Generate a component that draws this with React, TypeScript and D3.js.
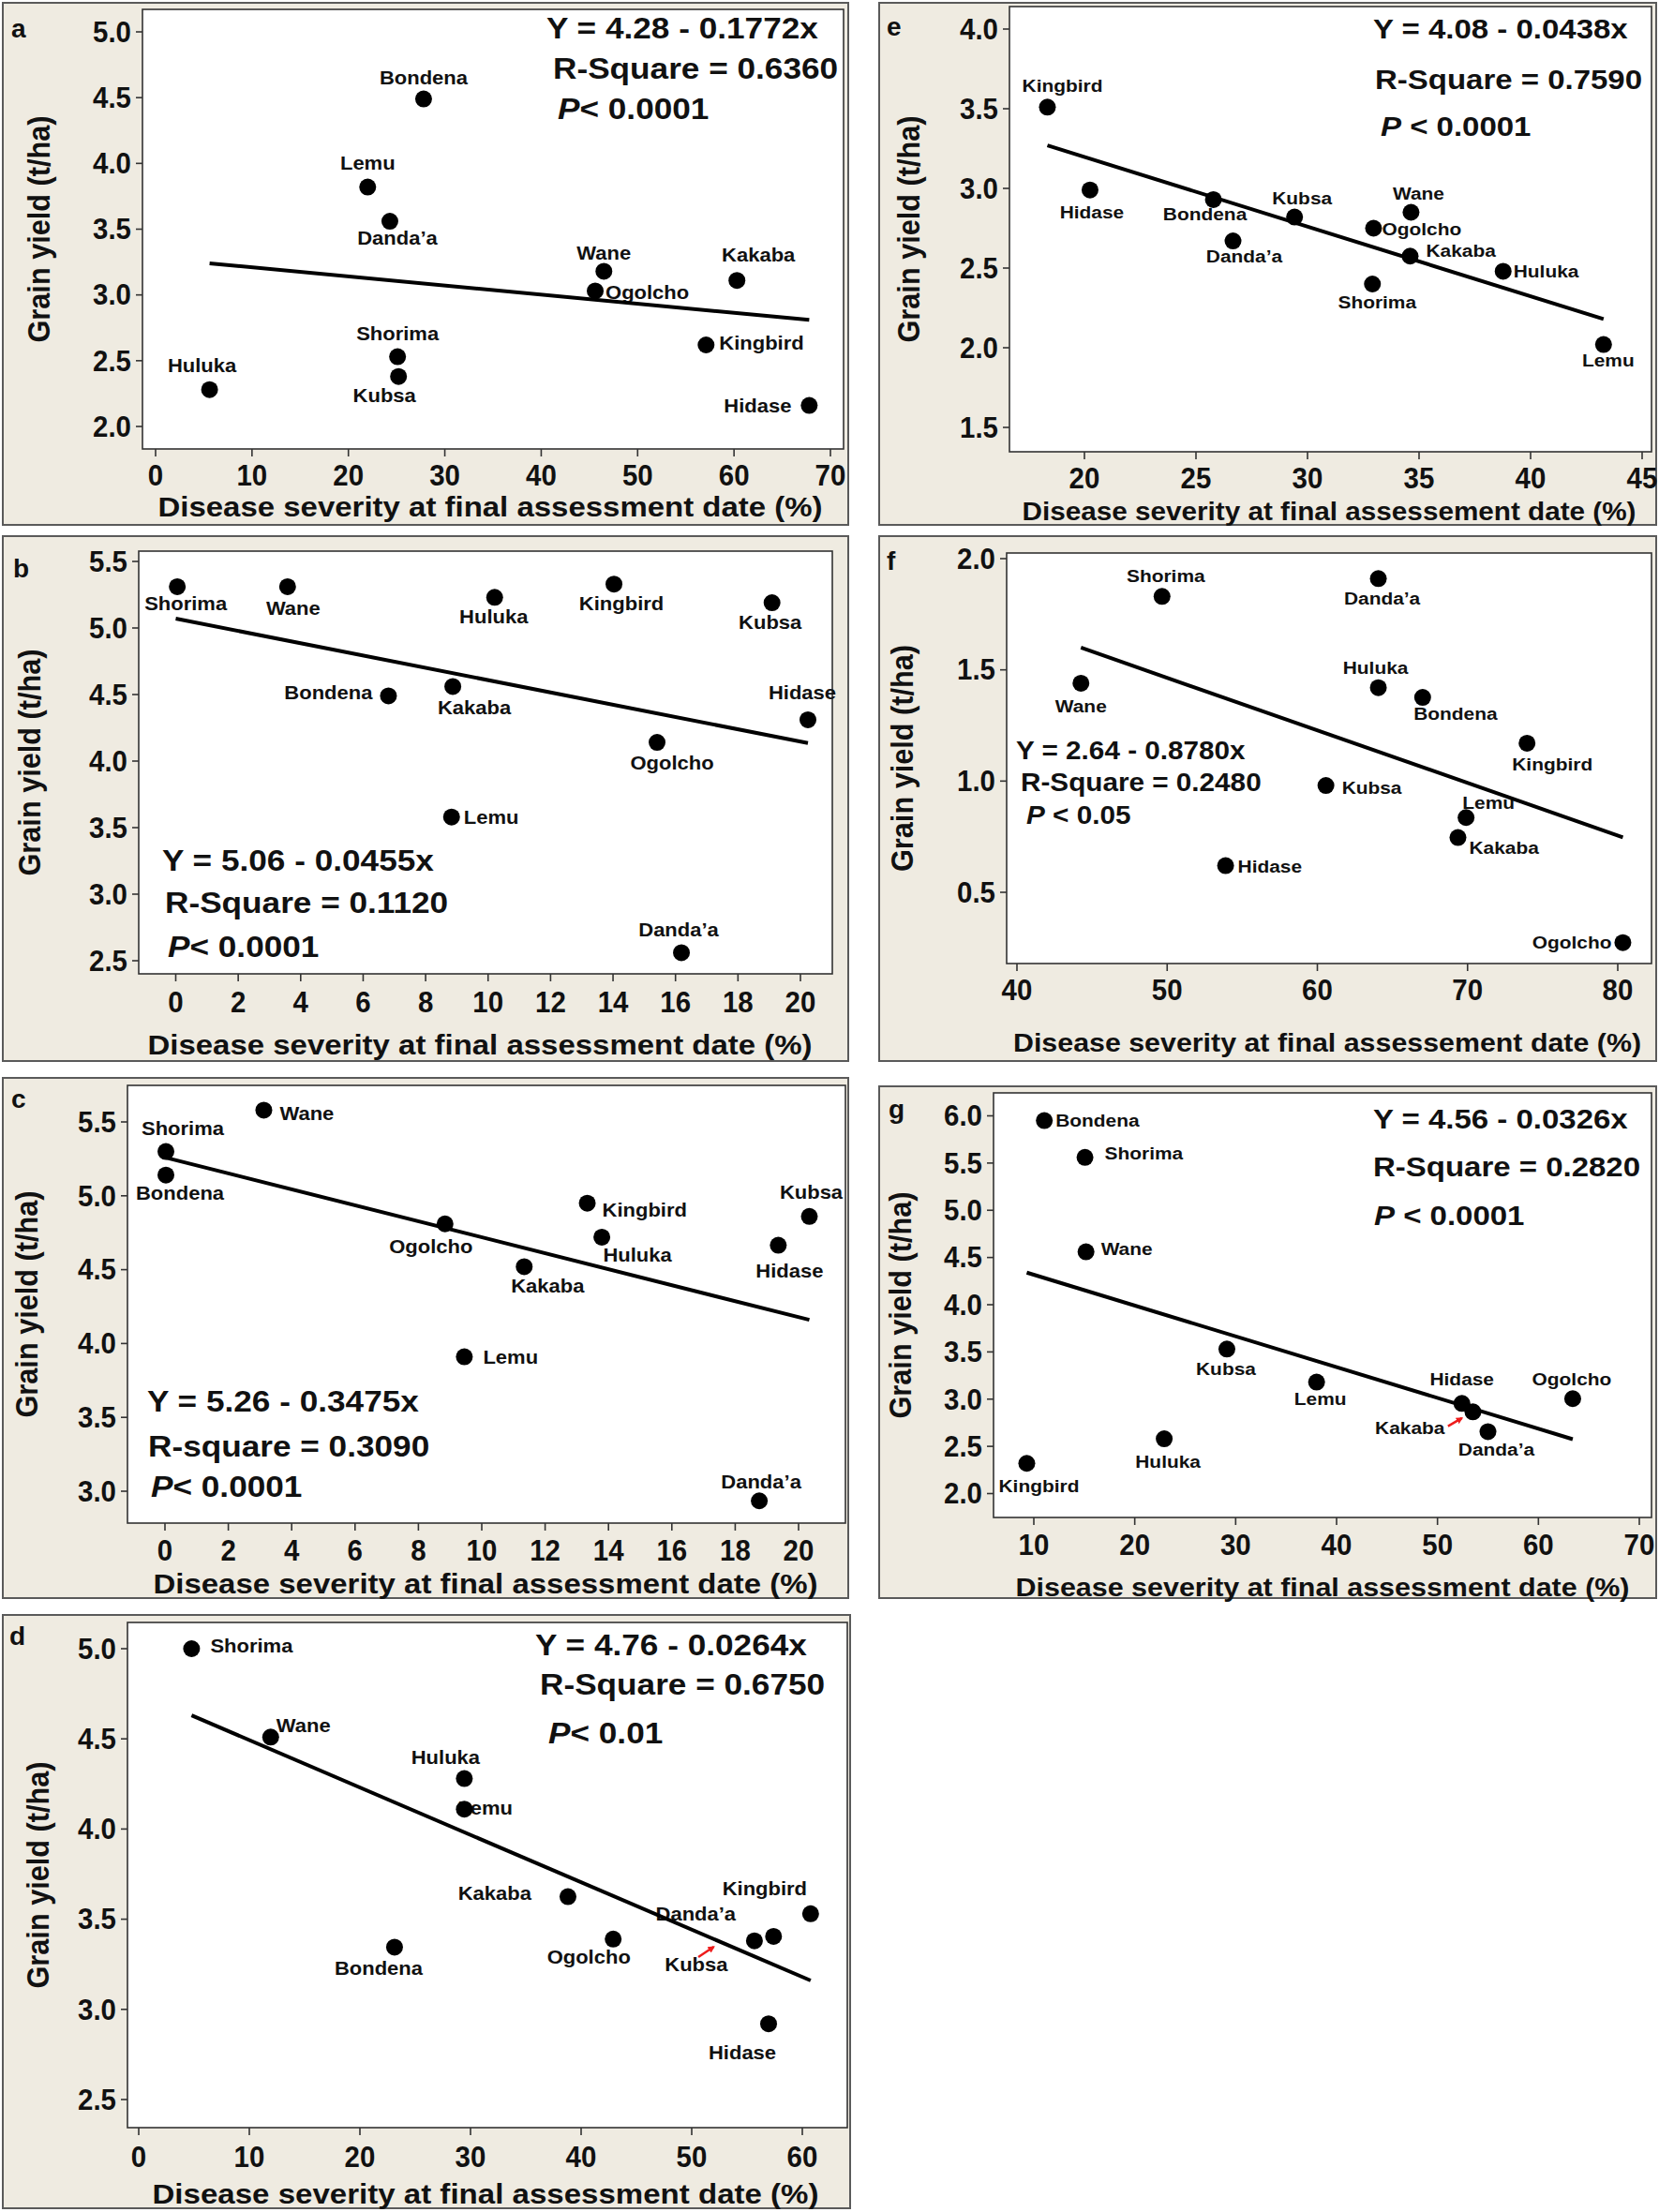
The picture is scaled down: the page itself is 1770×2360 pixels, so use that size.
import React from "react";
import * as d3 from "d3";

// ---------------- DATA ----------------
const titleStd = "Disease severity at final assessment date (%)";
const titleAlt = "Disease severity at final assessement date (%)";
const yTitle = "Grain yield (t/ha)";

// panel a
const aNames = ["Bondena", "Lemu", "Danda\u2019a", "Wane", "Ogolcho", "Kakaba", "Kingbird", "Shorima", "Kubsa", "Huluka", "Hidase"];
const aSev = [27.8, 22.0, 24.3, 46.5, 45.6, 60.3, 57.1, 25.1, 25.2, 5.6, 67.8];
const aYield = [4.49, 3.82, 3.56, 3.18, 3.03, 3.11, 2.62, 2.53, 2.38, 2.28, 2.16];
const aFitX = [5.6, 67.8];
const aFitY = [3.24, 2.81];
const aXTicks = [0, 10, 20, 30, 40, 50, 60, 70];
const aYTicks = [2.0, 2.5, 3.0, 3.5, 4.0, 4.5, 5.0];
const aEq = ["Y = 4.28 - 0.1772x", "R-Square = 0.6360", "< 0.0001"];

// panel e
const eNames = ["Kingbird", "Hidase", "Bondena", "Kubsa", "Danda\u2019a", "Wane", "Ogolcho", "Kakaba", "Shorima", "Huluka", "Lemu"];
const eSev = [18.34, 20.25, 25.78, 29.42, 26.66, 34.64, 32.96, 34.6, 32.91, 38.77, 43.27];
const eYield = [3.51, 2.99, 2.93, 2.82, 2.67, 2.85, 2.75, 2.575, 2.4, 2.48, 2.02];
const eFitX = [18.34, 43.27];
const eFitY = [3.27, 2.18];
const eXTicks = [20, 25, 30, 35, 40, 45];
const eYTicks = [1.5, 2.0, 2.5, 3.0, 3.5, 4.0];
const eEq = ["Y = 4.08 - 0.0438x", "R-Square = 0.7590", " < 0.0001"];

// panel b
const bNames = ["Shorima", "Wane", "Huluka", "Kingbird", "Kubsa", "Bondena", "Kakaba", "Hidase", "Ogolcho", "Lemu", "Danda\u2019a"];
const bSev = [0.05, 3.58, 10.21, 14.03, 19.09, 6.81, 8.87, 20.24, 15.41, 8.83, 16.19];
const bYield = [5.31, 5.31, 5.23, 5.33, 5.19, 4.49, 4.56, 4.31, 4.14, 3.58, 2.56];
const bFitX = [0, 20.24];
const bFitY = [5.07, 4.135];
const bXTicks = [0, 2, 4, 6, 8, 10, 12, 14, 16, 18, 20];
const bYTicks = [2.5, 3.0, 3.5, 4.0, 4.5, 5.0, 5.5];
const bEq = ["Y = 5.06 - 0.0455x", "R-Square = 0.1120", "< 0.0001"];

// panel f
const fNames = ["Shorima", "Danda\u2019a", "Wane", "Huluka", "Bondena", "Kingbird", "Kubsa", "Lemu", "Kakaba", "Hidase", "Ogolcho"];
const fSev = [49.66, 64.06, 44.26, 64.06, 67.01, 73.96, 60.57, 69.9, 69.36, 53.89, 80.34];
const fYield = [1.83, 1.91, 1.44, 1.42, 1.376, 1.17, 0.98, 0.836, 0.746, 0.62, 0.274];
const fFitX = [44.26, 80.34];
const fFitY = [1.6, 0.747];
const fXTicks = [40, 50, 60, 70, 80];
const fYTicks = [0.5, 1.0, 1.5, 2.0];
const fEq = ["Y = 2.64 - 0.8780x", "R-Square = 0.2480", " < 0.05"];

// panel c
const cNames = ["Wane", "Shorima", "Bondena", "Kingbird", "Kubsa", "Ogolcho", "Huluka", "Hidase", "Kakaba", "Lemu", "Danda\u2019a"];
const cSev = [3.12, 0.03, 0.03, 13.33, 20.34, 8.84, 13.79, 19.36, 11.34, 9.45, 18.76];
const cYield = [5.58, 5.3, 5.14, 4.95, 4.86, 4.81, 4.72, 4.665, 4.52, 3.91, 2.935];
const cFitX = [0, 20.34];
const cFitY = [5.26, 4.16];
const cXTicks = [0, 2, 4, 6, 8, 10, 12, 14, 16, 18, 20];
const cYTicks = [3.0, 3.5, 4.0, 4.5, 5.0, 5.5];
const cEq = ["Y = 5.26 - 0.3475x", "R-square = 0.3090", "< 0.0001"];

// panel g
const gNames = ["Bondena", "Shorima", "Wane", "Kubsa", "Lemu", "Hidase", "Kakaba", "Ogolcho", "Danda\u2019a", "Huluka", "Kingbird"];
const gSev = [11.04, 15.07, 15.17, 29.13, 38.02, 52.42, 53.51, 63.4, 55.0, 22.92, 9.3];
const gYield = [5.95, 5.56, 4.56, 3.53, 3.18, 2.955, 2.865, 3.005, 2.656, 2.58, 2.32];
const gFitX = [9.3, 63.4];
const gFitY = [4.34, 2.576];
const gXTicks = [10, 20, 30, 40, 50, 60, 70];
const gYTicks = [2.0, 2.5, 3.0, 3.5, 4.0, 4.5, 5.0, 5.5, 6.0];
const gEq = ["Y = 4.56 - 0.0326x", "R-Square = 0.2820", " < 0.0001"];
const gArrow = [[51.04, 2.713], [52.43, 2.8]];

// panel d
const dNames = ["Shorima", "Wane", "Huluka", "Lemu", "Kakaba", "Kingbird", "Danda\u2019a", "Kubsa", "Ogolcho", "Bondena", "Hidase"];
const dSev = [4.78, 11.93, 29.44, 29.44, 38.81, 60.75, 57.4, 55.67, 42.9, 23.13, 56.95];
const dYield = [5.0, 4.51, 4.28, 4.11, 3.625, 3.53, 3.405, 3.38, 3.39, 3.345, 2.92];
const dFitX = [4.78, 60.75];
const dFitY = [4.63, 3.16];
const dXTicks = [0, 10, 20, 30, 40, 50, 60];
const dYTicks = [2.5, 3.0, 3.5, 4.0, 4.5, 5.0];
const dEq = ["Y = 4.76 - 0.0264x", "R-Square = 0.6750", "< 0.01"];
const dArrow = [[50.6, 3.29], [52.0, 3.347]];

// ---------------- LABEL PLACEMENT (offsets from point, px) ----------------
const aLab = [[0, -23, "m"], [0, -26, "m"], [8, 18, "m"], [0, -20, "m"], [11, 1, "s"], [23, -27, "m"], [14, -2, "s"], [0, -25, "m"], [-15, 20, "m"], [-8, -26, "m"], [-19, 0, "e"]];
const eLab = [[16, -23, "m"], [2, 24, "m"], [-9, 15, "m"], [8, -20, "m"], [12, 16, "m"], [8, -20, "m"], [9, 1, "s"], [17, -6, "s"], [5, 19, "m"], [11, 0, "s"], [5, 17, "m"]];
const bLab = [[9, 18, "m"], [6, 23, "m"], [-1, 21, "m"], [8, 21, "m"], [-2, 21, "m"], [-17, -4, "e"], [23, 22, "m"], [-6, -29, "m"], [16, 22, "m"], [13, 0, "s"], [-3, -25, "m"]];
const fLab = [[4, -22, "m"], [4, 21, "m"], [0, 24, "m"], [-3, -21, "m"], [35, 17, "m"], [27, 22, "m"], [17, 2, "s"], [24, -16, "m"], [12, 11, "s"], [13, 1, "s"], [-12, 0, "e"]];
const cLab = [[17, 3, "s"], [18, -25, "m"], [15, 19, "m"], [16, 7, "s"], [2, -26, "m"], [-15, 24, "m"], [38, 19, "m"], [12, 27, "m"], [25, 20, "m"], [20, 0, "s"], [2, -20, "m"]];
const gLab = [[12, 0, "s"], [21, -4, "s"], [16, -3, "s"], [-1, 21, "m"], [4, 18, "m"], [0, -26, "m"], [-30, 17, "e"], [-1, -21, "m"], [9, 19, "m"], [4, 24, "m"], [13, 24, "m"]];
const dLab = [[20, -3, "s"], [6, -12, "s"], [-20, -23, "m"], [-7, -1, "s"], [-39, -4, "e"], [-49, -27, "m"], [-83, -24, "m"], [-62, 25, "m"], [-26, 19.5, "m"], [-17, 22, "m"], [-28, 31, "m"]];

// ---------------- LAYOUT ----------------
const SX = 1.1;
const FONT = "'Liberation Sans', Arial, Helvetica, sans-serif";
const BG = "#efebe1";

const panels = [
  {
    id: "a", names: aNames, sev: aSev, yld: aYield, lab: aLab, fitX: aFitX, fitY: aFitY, xTicks: aXTicks, yTicks: aYTicks, eq: aEq, title: titleStd,
    outer: [3, 3, 905, 560], box: [152, 10, 900, 479], xa: [[0, 166], [70, 886]], ya: [[5.0, 34], [2.0, 455]],
    tickY: 507, titleY: 541, titleX: 523, titleW: 709, yTitleX: 42, letter: [12, 30],
    eqPos: [[583, 30], [590, 73], [595, 116]], eqFs: 32, labFs: 20, titleFs: 29,
  },
  {
    id: "e", names: eNames, sev: eSev, yld: eYield, lab: eLab, fitX: eFitX, fitY: eFitY, xTicks: eXTicks, yTicks: eYTicks, eq: eEq, title: titleAlt,
    outer: [938, 3, 1767, 560], box: [1077, 7, 1762, 482], xa: [[20, 1157], [45, 1752]], ya: [[4.0, 31], [1.5, 456]],
    tickY: 510, titleY: 545, titleX: 1418, titleW: 655, yTitleX: 970, letter: [946, 28],
    eqPos: [[1465, 31], [1467, 85], [1473, 135]], eqFs: 30, labFs: 19, titleFs: 28,
  },
  {
    id: "b", names: bNames, sev: bSev, yld: bYield, lab: bLab, fitX: bFitX, fitY: bFitY, xTicks: bXTicks, yTicks: bYTicks, eq: bEq, title: titleStd,
    outer: [3, 572, 905, 1132], box: [148, 588, 888, 1039], xa: [[0, 187.5], [20, 854]], ya: [[5.5, 599], [2.5, 1025]],
    tickY: 1069, titleY: 1115, titleX: 512, titleW: 709, yTitleX: 32, letter: [14, 606],
    eqPos: [[173, 918], [176, 963], [179, 1010]], eqFs: 32, labFs: 20, titleFs: 29,
  },
  {
    id: "f", names: fNames, sev: fSev, yld: fYield, lab: fLab, fitX: fFitX, fitY: fFitY, xTicks: fXTicks, yTicks: fYTicks, eq: fEq, title: titleAlt,
    outer: [938, 572, 1767, 1132], box: [1074, 590, 1762, 1028], xa: [[40, 1085], [80, 1726]], ya: [[2.0, 596], [0.5, 952]],
    tickY: 1056, titleY: 1112, titleX: 1416, titleW: 670, yTitleX: 963, letter: [946, 598],
    eqPos: [[1084, 800], [1089, 834], [1095, 869]], eqFs: 27, labFs: 19, titleFs: 28,
  },
  {
    id: "c", names: cNames, sev: cSev, yld: cYield, lab: cLab, fitX: cFitX, fitY: cFitY, xTicks: cXTicks, yTicks: cYTicks, eq: cEq, title: titleStd,
    outer: [3, 1150, 905, 1705], box: [136, 1158, 902, 1625], xa: [[0, 176], [20, 852]], ya: [[5.5, 1197], [3.0, 1591]],
    tickY: 1654, titleY: 1690, titleX: 518, titleW: 709, yTitleX: 29, letter: [12, 1172],
    eqPos: [[157, 1495], [158, 1543], [161, 1586]], eqFs: 32, labFs: 20, titleFs: 29,
  },
  {
    id: "g", names: gNames, sev: gSev, yld: gYield, lab: gLab, fitX: gFitX, fitY: gFitY, xTicks: gXTicks, yTicks: gYTicks, eq: gEq, title: titleStd, arrow: gArrow,
    outer: [938, 1159, 1767, 1705], box: [1060, 1166, 1762, 1619], xa: [[10, 1103], [70, 1749]], ya: [[6.0, 1190.5], [2.0, 1593.5]],
    tickY: 1648, titleY: 1693, titleX: 1411, titleW: 655, yTitleX: 961, letter: [948, 1183],
    eqPos: [[1465, 1194], [1465, 1245], [1466, 1297]], eqFs: 30, labFs: 19, titleFs: 28,
  },
  {
    id: "d", names: dNames, sev: dSev, yld: dYield, lab: dLab, fitX: dFitX, fitY: dFitY, xTicks: dXTicks, yTicks: dYTicks, eq: dEq, title: titleStd, arrow: dArrow,
    outer: [3, 1723, 907, 2356], box: [136, 1731, 904, 2270], xa: [[0, 148], [60, 856]], ya: [[5.0, 1759], [2.5, 2240]],
    tickY: 2301, titleY: 2341, titleX: 518, titleW: 711, yTitleX: 41, letter: [10, 1745],
    eqPos: [[571, 1755], [576, 1797], [585, 1849]], eqFs: 32, labFs: 20, titleFs: 29,
  },
];

// ---------------- COMPONENTS ----------------
function T({ x, y, a = "middle", fs, italic = false, children, fill = "#111", sx = SX }: any) {
  return (
    <text
      transform={`translate(${x},${y}) scale(${sx},1)`}
      textAnchor={a}
      dominantBaseline="central"
      fontSize={fs}
      fontWeight="bold"
      fontStyle={italic ? "italic" : "normal"}
      fontFamily={FONT}
      fill={fill}
    >
      {children}
    </text>
  );
}

const anchorMap: any = { m: "middle", s: "start", e: "end" };

function Panel({ p }: any) {
  const x = d3.scaleLinear().domain([p.xa[0][0], p.xa[1][0]]).range([p.xa[0][1], p.xa[1][1]]);
  const y = d3.scaleLinear().domain([p.ya[0][0], p.ya[1][0]]).range([p.ya[0][1], p.ya[1][1]]);
  const [ox0, oy0, ox1, oy1] = p.outer;
  const [bx0, by0, bx1, by1] = p.box;
  const fmtY = d3.format(".1f");
  const line = d3.line<number>().x((_, i) => x(p.fitX[i])).y((_, i) => y(p.fitY[i]));
  const pts = p.names.map((n: string, i: number) => ({ n, sx: p.sev[i], yv: p.yld[i], l: p.lab[i] }));
  const yMid = (by0 + by1) / 2;
  return (
    <g>
      <rect x={ox0} y={oy0} width={ox1 - ox0} height={oy1 - oy0} fill={BG} stroke="#5a5a5a" strokeWidth={2} />
      <rect x={bx0} y={by0} width={bx1 - bx0} height={by1 - by0} fill="#fff" stroke="#333" strokeWidth={1.6} />
      {/* y ticks */}
      {p.yTicks.map((t: number) => (
        <g key={"y" + t}>
          <line x1={bx0 - 7} x2={bx0} y1={y(t)} y2={y(t)} stroke="#333" strokeWidth={1.6} />
          <T x={bx0 - 12} y={y(t)} a="end" fs={31} sx={0.95}>{fmtY(t)}</T>
        </g>
      ))}
      {/* x ticks */}
      {p.xTicks.map((t: number) => (
        <g key={"x" + t}>
          <line x1={x(t)} x2={x(t)} y1={by1} y2={by1 + 8} stroke="#333" strokeWidth={1.6} />
          <T x={x(t)} y={p.tickY} fs={31} sx={0.95}>{String(t)}</T>
        </g>
      ))}
      {/* axis titles */}
      <text
        x={p.titleX}
        y={p.titleY}
        textAnchor="middle"
        dominantBaseline="central"
        fontSize={p.titleFs}
        fontWeight="bold"
        fontFamily={FONT}
        fill="#111"
        textLength={p.titleW}
        lengthAdjust="spacingAndGlyphs"
      >
        {p.title}
      </text>
      <text
        transform={`translate(${p.yTitleX},${yMid}) rotate(-90) scale(1,1.2)`}
        textAnchor="middle"
        dominantBaseline="central"
        fontSize={27}
        fontWeight="bold"
        fontFamily={FONT}
        fill="#111"
        textLength={242}
        lengthAdjust="spacingAndGlyphs"
      >
        {yTitle}
      </text>
      {/* panel letter */}
      <text x={p.letter[0]} y={p.letter[1]} dominantBaseline="central" fontSize={28} fontWeight="bold" fontFamily={FONT} fill="#111">
        {p.id}
      </text>
      {/* equation */}
      <T x={p.eqPos[0][0]} y={p.eqPos[0][1]} a="start" fs={p.eqFs}>{p.eq[0]}</T>
      <T x={p.eqPos[1][0]} y={p.eqPos[1][1]} a="start" fs={p.eqFs}>{p.eq[1]}</T>
      <text
        transform={`translate(${p.eqPos[2][0]},${p.eqPos[2][1]}) scale(${SX},1)`}
        dominantBaseline="central"
        fontSize={p.eqFs}
        fontWeight="bold"
        fontFamily={FONT}
        fill="#111"
      >
        <tspan fontStyle="italic">P</tspan>
        <tspan>{p.eq[2]}</tspan>
      </text>
      {/* labels */}
      {pts.map((d: any, i: number) => (
        <T key={"l" + i} x={x(d.sx) + d.l[0]} y={y(d.yv) + d.l[1]} a={anchorMap[d.l[2]]} fs={p.labFs}>
          {d.n}
        </T>
      ))}
      {/* fit line */}
      <path d={line([0, 1]) || ""} fill="none" stroke="#000" strokeWidth={4} />
      {/* points */}
      {pts.map((d: any, i: number) => (
        <circle key={"c" + i} cx={x(d.sx)} cy={y(d.yv)} r={9} fill="#000" />
      ))}
      {/* arrow */}
      {p.arrow && (
        <line
          x1={x(p.arrow[0][0])}
          y1={y(p.arrow[0][1])}
          x2={x(p.arrow[1][0])}
          y2={y(p.arrow[1][1])}
          stroke="#ee1c1c"
          strokeWidth={2.5}
          markerEnd="url(#redhead)"
        />
      )}
    </g>
  );
}

export default function App() {
  return (
    <div style={{ position: "absolute", left: 0, top: 0 }}>
      <svg width={1770} height={2360} viewBox="0 0 1770 2360" style={{ display: "block", background: "#fff" }}>
        <defs>
          <marker id="redhead" viewBox="0 0 10 10" refX="8" refY="5" markerWidth="3" markerHeight="3" orient="auto">
            <path d="M0,0 L10,5 L0,10 z" fill="#ee1c1c" />
          </marker>
        </defs>
        {panels.map((p) => (
          <Panel key={p.id} p={p} />
        ))}
      </svg>
    </div>
  );
}
